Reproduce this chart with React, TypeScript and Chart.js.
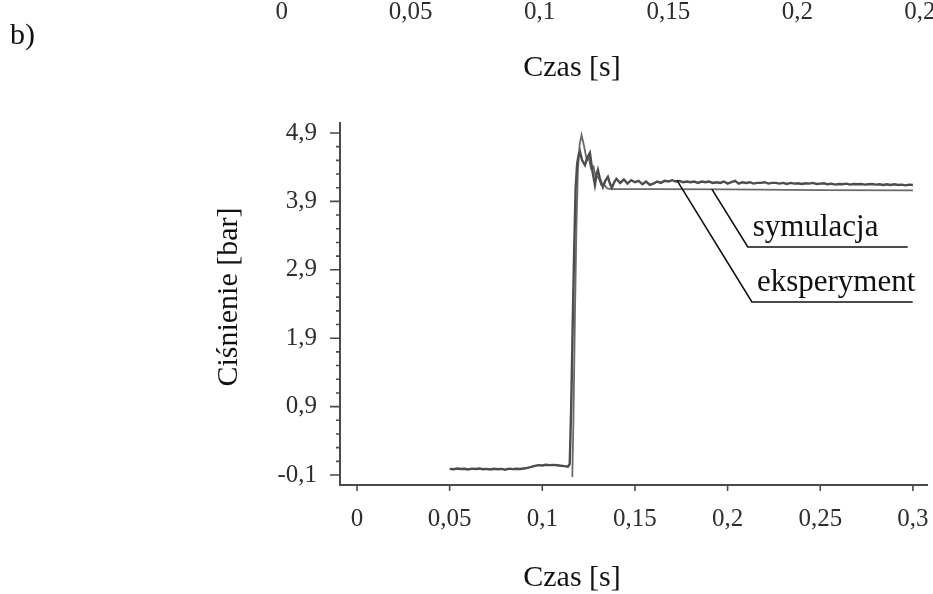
import React, { useEffect, useRef } from "react";
import { Chart, registerables } from "chart.js";

Chart.register(...registerables);

const SERIF = '"Liberation Serif", "Times New Roman", serif';

// Axis ticks
const timeTicks = [0, 0.05, 0.1, 0.15, 0.2, 0.25, 0.3];
const upperTimeTicks = [0, 0.05, 0.1, 0.15, 0.2, 0.25];
const pressureTicks = [-0.1, 0.9, 1.9, 2.9, 3.9, 4.9];

// Measured pressure [time s, pressure bar]
const experimentSamples: [number, number][] = [
  [0.05, -0.01], [0.052, -0.016], [0.054, -0.006], [0.056, -0.012], [0.058, -0.008],
  [0.06, -0.018], [0.062, -0.007], [0.064, -0.013], [0.066, -0.005], [0.068, -0.015],
  [0.07, -0.01], [0.072, -0.02], [0.074, -0.008], [0.076, -0.016], [0.078, -0.011],
  [0.08, -0.022], [0.082, -0.007], [0.084, -0.014], [0.086, -0.009], [0.088, -0.012],
  [0.09, -0.004], [0.092, 0.004], [0.094, 0.018], [0.096, 0.034], [0.098, 0.044],
  [0.1, 0.04], [0.102, 0.05], [0.104, 0.045], [0.106, 0.048], [0.108, 0.042],
  [0.11, 0.036], [0.112, 0.03], [0.1138, 0.022],
  [0.1148, 0.06], [0.1156, 0.9], [0.1164, 2.1], [0.1172, 3.2], [0.118, 4.1], [0.1188, 4.45],
  [0.1196, 4.58], [0.1203, 4.63], [0.1215, 4.5], [0.123, 4.43], [0.1245, 4.55],
  [0.1257, 4.61], [0.127, 4.35], [0.1284, 4.14], [0.1292, 4.28], [0.13, 4.36],
  [0.1312, 4.22], [0.1327, 4.11], [0.134, 4.2], [0.1354, 4.26], [0.1365, 4.16],
  [0.1375, 4.1], [0.139, 4.19],
  [0.14, 4.23], [0.142, 4.17], [0.144, 4.22], [0.146, 4.16], [0.148, 4.21],
  [0.15, 4.18], [0.152, 4.2], [0.154, 4.15], [0.156, 4.19], [0.158, 4.14],
  [0.16, 4.16], [0.162, 4.19], [0.164, 4.17], [0.166, 4.2], [0.168, 4.19],
  [0.17, 4.21], [0.172, 4.19], [0.174, 4.2], [0.176, 4.18], [0.178, 4.19],
  [0.18, 4.18], [0.182, 4.19], [0.184, 4.17], [0.186, 4.19], [0.188, 4.18],
  [0.19, 4.19], [0.192, 4.17], [0.194, 4.18], [0.196, 4.17], [0.198, 4.19],
  [0.2, 4.16], [0.202, 4.18], [0.204, 4.2], [0.206, 4.16], [0.208, 4.18],
  [0.21, 4.17], [0.212, 4.18], [0.214, 4.16], [0.216, 4.17], [0.218, 4.17],
  [0.22, 4.18], [0.222, 4.16], [0.224, 4.17], [0.226, 4.17], [0.228, 4.16],
  [0.23, 4.17], [0.232, 4.155], [0.234, 4.17], [0.236, 4.16], [0.238, 4.165],
  [0.24, 4.155], [0.242, 4.165], [0.244, 4.16], [0.246, 4.17], [0.248, 4.155],
  [0.25, 4.16], [0.252, 4.165], [0.254, 4.15], [0.256, 4.16], [0.258, 4.145],
  [0.26, 4.155], [0.262, 4.15], [0.264, 4.16], [0.266, 4.145], [0.268, 4.155],
  [0.27, 4.15], [0.272, 4.155], [0.274, 4.145], [0.276, 4.15], [0.278, 4.155],
  [0.28, 4.145], [0.282, 4.15], [0.284, 4.14], [0.286, 4.15], [0.288, 4.14],
  [0.29, 4.15], [0.292, 4.14], [0.294, 4.145], [0.296, 4.135], [0.298, 4.145],
  [0.3, 4.14],
];

// Simulated pressure [time s, pressure bar]
const simulationSamples: [number, number][] = [
  [0.1162, -0.13], [0.1168, 0.7], [0.1176, 2.2], [0.1184, 3.5], [0.1192, 4.35],
  [0.1202, 4.74], [0.1212, 4.87], [0.1226, 4.7], [0.124, 4.5], [0.125, 4.54],
  [0.1263, 4.38], [0.1276, 4.41], [0.129, 4.24], [0.1302, 4.26], [0.1318, 4.14],
  [0.1332, 4.15], [0.135, 4.09], [0.137, 4.08], [0.16, 4.08], [0.2, 4.075],
  [0.25, 4.065], [0.3, 4.06],
];

const commaNumber = (v: number) => String(v).replace(".", ",");

const toPoints = (rows: [number, number][]) => rows.map(([x, y]) => ({ x, y }));

// Tick marks, titles and the two callouts
const decorPlugin = {
  id: "decor",
  afterDraw(chart: any) {
    const { ctx } = chart;
    const xs = chart.scales.x;
    const ys = chart.scales.y;
    const left = chart.chartArea.left;
    const bottom = chart.chartArea.bottom;
    ctx.save();
    ctx.strokeStyle = "#4a4a4a";
    ctx.lineWidth = 1.6;
    ctx.beginPath();
    for (let i = 0; i < pressureTicks.length; i++) {
      const v = pressureTicks[i];
      const py = ys.getPixelForValue(v);
      ctx.moveTo(left - 10, py);
      ctx.lineTo(left, py);
      const next = pressureTicks[i + 1];
      if (next !== undefined) {
        for (let k = 1; k < 5; k++) {
          const my = ys.getPixelForValue(v + ((next - v) * k) / 5);
          ctx.moveTo(left - 4, my);
          ctx.lineTo(left, my);
        }
      }
    }
    for (const t of timeTicks) {
      const px = xs.getPixelForValue(t);
      ctx.moveTo(px, bottom);
      ctx.lineTo(px, bottom + 6);
    }
    ctx.stroke();

    // callouts
    const callouts = [
      { text: "symulacja", at: [0.1915, 4.08], start: [0.2109, 3.233], end: 0.2972 },
      { text: "eksperyment", at: [0.1726, 4.21], start: [0.2131, 2.43], end: 0.2999 },
    ];
    ctx.strokeStyle = "#111";
    ctx.lineWidth = 1.6;
    ctx.fillStyle = "#111";
    ctx.font = `31px ${SERIF}`;
    ctx.textAlign = "left";
    ctx.textBaseline = "alphabetic";
    for (const c of callouts) {
      const ax = xs.getPixelForValue(c.at[0]);
      const ay = ys.getPixelForValue(c.at[1]);
      const sx = xs.getPixelForValue(c.start[0]);
      const sy = ys.getPixelForValue(c.start[1]);
      const ex = xs.getPixelForValue(c.end);
      ctx.beginPath();
      ctx.moveTo(ax, ay);
      ctx.lineTo(sx, sy);
      ctx.lineTo(ex, sy);
      ctx.stroke();
      ctx.fillText(c.text, sx + 5, sy - 11);
    }

    // titles
    ctx.font = `30px ${SERIF}`;
    ctx.textAlign = "center";
    ctx.textBaseline = "middle";
    ctx.fillText("Czas [s]", 572, 578);
    ctx.fillText("Czas [s]", 572, 68);
    ctx.textAlign = "left";
    ctx.fillText("b)", 10, 36);
    ctx.save();
    ctx.translate(229, 297);
    ctx.rotate(-Math.PI / 2);
    ctx.textAlign = "center";
    ctx.fillText("Ciśnienie [bar]", 0, 0);
    ctx.restore();
    ctx.restore();
  },
};

const tickFont = { family: SERIF, size: 25 };
const tickColor = "#2e2e2e";

export default function App() {
  const mainRef = useRef<HTMLCanvasElement>(null);
  const upperRef = useRef<HTMLCanvasElement>(null);

  useEffect(() => {
    // Time axis of the panel above, mostly cut off at the page top
    const upper = new Chart(upperRef.current!, {
      type: "scatter",
      data: { datasets: [] },
      options: {
        responsive: false,
        animation: false,
        events: [],
        layout: { padding: { left: 256, right: 48, top: 0, bottom: 0 } },
        plugins: { legend: { display: false }, tooltip: { enabled: false } },
        scales: {
          x: {
            type: "linear",
            min: -0.01,
            max: 0.26,
            afterBuildTicks: (s: any) => {
              s.ticks = upperTimeTicks.map((value) => ({ value }));
            },
            afterFit: (s: any) => {
              s.height = 50;
              s.paddingLeft = 0;
              s.paddingRight = 0;
            },
            grid: { display: true, drawOnChartArea: false, drawTicks: false },
            border: { display: true, color: "#555", width: 2 },
            ticks: {
              padding: 12,
              color: tickColor,
              font: tickFont,
              autoSkip: false,
              maxRotation: 0,
              callback: (v: any) => commaNumber(Number(v)),
            },
          },
          y: { display: false, min: 0, max: 1 },
        },
      },
    } as any);

    const main = new Chart(mainRef.current!, {
      type: "scatter",
      data: {
        datasets: [
          {
            label: "eksperyment",
            data: toPoints(experimentSamples),
            showLine: true,
            borderColor: "#4c4c4c",
            borderWidth: 2.4,
            pointRadius: 0,
            tension: 0,
          },
          {
            label: "symulacja",
            data: toPoints(simulationSamples),
            showLine: true,
            borderColor: "#6a6a6a",
            borderWidth: 1.8,
            pointRadius: 0,
            tension: 0,
          },
        ],
      },
      options: {
        responsive: false,
        animation: false,
        events: [],
        layout: { padding: { left: 0, right: 6, top: 123, bottom: 0 } },
        plugins: { legend: { display: false }, tooltip: { enabled: false } },
        scales: {
          x: {
            type: "linear",
            min: -0.00917,
            max: 0.3076,
            afterBuildTicks: (s: any) => {
              s.ticks = timeTicks.map((value) => ({ value }));
            },
            afterFit: (s: any) => {
              s.height = 109;
              s.paddingLeft = 0;
              s.paddingRight = 0;
            },
            grid: { display: true, drawOnChartArea: false, drawTicks: false },
            border: { display: true, color: "#4a4a4a", width: 2 },
            ticks: {
              padding: 19,
              color: tickColor,
              font: tickFont,
              autoSkip: false,
              maxRotation: 0,
              callback: (v: any) => commaNumber(Number(v)),
            },
          },
          y: {
            type: "linear",
            min: -0.246,
            max: 5.046,
            afterBuildTicks: (s: any) => {
              s.ticks = pressureTicks.map((value) => ({ value }));
            },
            afterFit: (s: any) => {
              s.width = 340;
              s.paddingTop = 0;
              s.paddingBottom = 0;
            },
            grid: { display: true, drawOnChartArea: false, drawTicks: false },
            border: { display: true, color: "#4a4a4a", width: 2 },
            ticks: {
              padding: 23,
              color: tickColor,
              font: tickFont,
              autoSkip: false,
              callback: (v: any) => commaNumber(Number(v)),
            },
          },
        },
      },
      plugins: [decorPlugin],
    } as any);

    return () => {
      upper.destroy();
      main.destroy();
    };
  }, []);

  return (
    <div
      style={{
        position: "fixed",
        left: 0,
        top: 0,
        width: 933,
        height: 594,
        overflow: "hidden",
        background: "#fff",
      }}
    >
      <canvas
        ref={upperRef}
        width={1000}
        height={80}
        style={{ position: "absolute", left: 0, top: -45, width: 1000, height: 80 }}
      />
      <canvas
        ref={mainRef}
        width={933}
        height={594}
        style={{ position: "absolute", left: 0, top: 0, width: 933, height: 594 }}
      />
    </div>
  );
}
